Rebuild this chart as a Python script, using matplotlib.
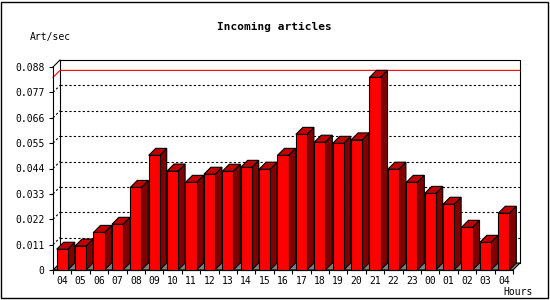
import matplotlib
matplotlib.use('Agg')
import matplotlib.pyplot as plt
from matplotlib.patches import Polygon, Rectangle

# Data
hours = ['04', '05', '06', '07', '08', '09', '10', '11', '12', '13', '14', '15', '16',
         '17', '18', '19', '20', '21', '22', '23', '00', '01', '02', '03', '04']
rates = [0.0090, 0.0104, 0.0163, 0.0198, 0.0358, 0.0497, 0.0429, 0.0380, 0.0415,
         0.0428, 0.0445, 0.0437, 0.0497, 0.0588, 0.0554, 0.0549, 0.0564, 0.0835,
         0.0437, 0.0380, 0.0332, 0.0285, 0.0185, 0.0120, 0.0246]
y_ticks = [0, 0.011, 0.022, 0.033, 0.044, 0.055, 0.066, 0.077, 0.088]
y_labels = ['0', '0.011', '0.022', '0.033', '0.044', '0.055', '0.066', '0.077', '0.088']

# Styling
W, H = 550, 300
DEPTH = 7          # 3d depth in pixels
BAR_W = 0.6
FRONT = '#ff0000'
TOP = '#c00000'
SIDE = '#800000'
FLOOR = '#808080'
LW = 0.8
MONO = 'DejaVu Sans Mono'

fig = plt.figure(figsize=(W / 100, H / 100), dpi=100)
ax = fig.add_axes([53 / W, 30 / H, 460 / W, 203 / H])
x0, x1 = -0.5, len(hours) - 0.5
ymax = y_ticks[-1]
ax.set_xlim(x0, x1)
ax.set_ylim(0, ymax)
ax.patch.set_visible(False)

# depth offsets in data units
dx = DEPTH * (x1 - x0) / ax.bbox.width
dy = DEPTH * ymax / ax.bbox.height

# back wall
ax.plot([x0 + dx, x0 + dx, x1 + dx, x1 + dx], [dy, ymax + dy, ymax + dy, dy],
        color='k', lw=LW, clip_on=False, zorder=1)
ax.plot([x0, x0 + dx], [ymax, ymax + dy], color='k', lw=LW, clip_on=False, zorder=1)
for t in y_ticks[1:-1]:
    ax.plot([x0 + dx, x1 + dx], [t + dy, t + dy], color='k', lw=LW,
            ls=(0, (2, 2)), clip_on=False, zorder=1)
    ax.plot([x0, x0 + dx], [t, t + dy], color='k', lw=LW,
            ls=(0, (2, 2)), clip_on=False, zorder=1)

# max line
peak = max(rates)
ax.plot([x0, x0 + dx, x1 + dx], [peak, peak + dy, peak + dy], color='red',
        lw=LW, clip_on=False, zorder=1.5)

# floor
ax.add_patch(Polygon([(x0, 0), (x1, 0), (x1 + dx, dy), (x0 + dx, dy)],
                     closed=True, fc=FLOOR, ec='k', lw=LW, zorder=2, clip_on=False))

# 3d bars
for i, v in enumerate(rates):
    l, r = i - BAR_W / 2, i + BAR_W / 2
    ax.add_patch(Polygon([(r, 0), (r + dx, dy), (r + dx, v + dy), (r, v)],
                         closed=True, fc=SIDE, ec='k', lw=LW, zorder=3, clip_on=False))
    ax.add_patch(Polygon([(l, v), (r, v), (r + dx, v + dy), (l + dx, v + dy)],
                         closed=True, fc=TOP, ec='k', lw=LW, zorder=3, clip_on=False))
    ax.add_patch(Rectangle((l, 0), BAR_W, v, fc=FRONT, ec='k', lw=LW,
                           zorder=3, clip_on=False))

# axes
for s in ['top', 'right']:
    ax.spines[s].set_visible(False)
for s in ['left', 'bottom']:
    ax.spines[s].set_linewidth(LW)
    ax.spines[s].set_zorder(4)

ax.set_yticks(y_ticks)
ax.set_yticklabels(y_labels, fontfamily=MONO, fontsize=7)
ax.tick_params(axis='y', length=3, width=LW, pad=3)

ax.set_xticks([i - 0.5 for i in range(len(hours) + 1)])
ax.set_xticklabels([])
ax.set_xticks(range(len(hours)), minor=True)
ax.set_xticklabels(hours, minor=True, fontfamily=MONO, fontsize=7)
ax.tick_params(axis='x', which='major', length=3, width=LW)
ax.tick_params(axis='x', which='minor', length=0, pad=4)

fig.text(274 / W, 1 - 27 / H, 'Incoming articles', ha='center', va='center',
         fontfamily=MONO, fontsize=8, fontweight='bold')
fig.text(30 / W, 1 - 37 / H, 'Art/sec', ha='left', va='center',
         fontfamily=MONO, fontsize=7)
fig.text(533 / W, 1 - 292 / H, 'Hours', ha='right', va='center',
         fontfamily=MONO, fontsize=7)

fig.add_artist(Rectangle((1 / W, 2 / H), 547 / W, 296 / H, transform=fig.transFigure,
                         fill=False, ec='k', lw=1))

fig.savefig('out.png', dpi=100)
